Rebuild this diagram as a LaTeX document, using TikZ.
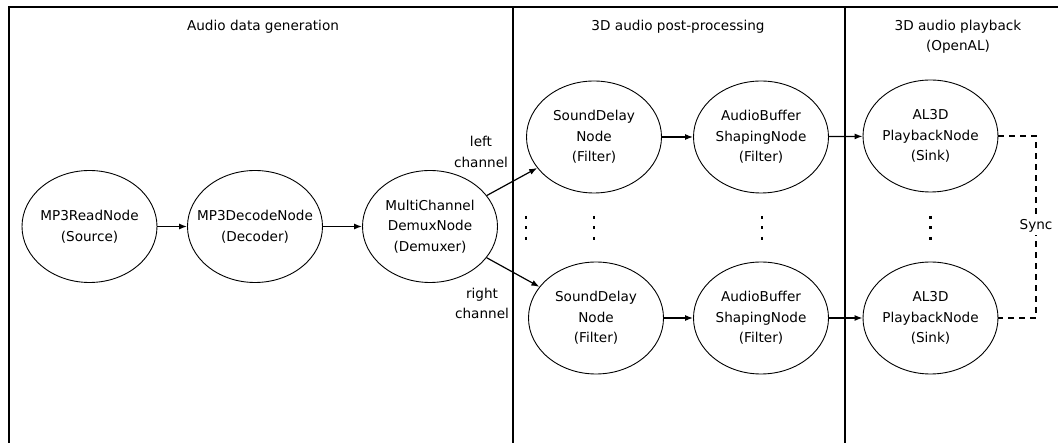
\documentclass[tikz,border=0pt]{standalone}
\usepackage{fontspec}
\setmainfont{DejaVu Sans}
\usetikzlibrary{shapes.geometric,arrows.meta}
\tikzset{
  x=1pt, y=-1pt,
  every node/.style={font=\fontsize{13.6}{20.5}\selectfont, align=center},
  proc/.style={ellipse, draw, line width=0.9pt, minimum width=135pt,
    minimum height=112pt, inner xsep=-30pt, inner ysep=0pt},
  frame/.style={line width=2pt},
  flow/.style={line width=1.2pt, -{Latex[length=8pt,width=6pt]}},
  sync/.style={line width=1.1pt, dash pattern=on 6pt off 5pt},
  dotsline/.style={line width=2.2pt, dash pattern=on 3pt off 7.5pt},
  lbl/.style={inner sep=1pt},
}
\begin{document}
\begin{tikzpicture}
\useasboundingbox (0,0) rectangle (1058,443);
% section frame
\draw[frame] (9,443) -- (9,7.5) -- (1058,7.5);
\draw[frame] (512.5,7.5) -- (512.5,443);
\draw[frame] (844.5,7.5) -- (844.5,443);

% section titles
\node (t1) at (263,27) {Audio data generation};
\node (t2) at (678,27) {3D audio post-processing};
\node (t3) at (958,37) {3D audio playback\\(OpenAL)};

% processing nodes
\node[proc] (read)   at (89.5,226.5) {MP3ReadNode\\(Source)};
\node[proc] (decode) at (255,226.5)  {MP3DecodeNode\\(Decoder)};
\node[proc] (demux)  at (430,226.5)  {MultiChannel\\DemuxNode\\(Demuxer)};
\node[proc] (sd1)  at (594,137) {SoundDelay\\Node\\(Filter)};
\node[proc] (sd2)  at (596,318) {SoundDelay\\Node\\(Filter)};
\node[proc] (abs1) at (761,137) {AudioBuffer\\ShapingNode\\(Filter)};
\node[proc] (abs2) at (761,318) {AudioBuffer\\ShapingNode\\(Filter)};
\node[proc] (al1)  at (930.5,136) {AL3D\\PlaybackNode\\(Sink)};
\node[proc] (al2)  at (930.5,318) {AL3D\\PlaybackNode\\(Sink)};

% data flow
\draw[flow] (read) -- (decode);
\draw[flow] (decode) -- (demux);
\draw[flow] (demux) -- (sd1);
\draw[flow] (demux) -- (sd2);
\draw[flow] (sd1) -- (abs1);
\draw[flow] (sd2) -- (abs2);
\draw[flow] (abs1) -- (al1);
\draw[flow] (abs2) -- (al2);

\node[lbl] (lch) at (481,152) {left\\channel};
\node[lbl] (rch) at (482,303.5) {right\\channel};

% synchronisation between the sinks
\coordinate (s1) at (1036,136);
\coordinate (s2) at (1036,318);
\draw[sync] (al1.east) -- (s1) -- (s2) -- (al2.east);
\node[fill=white, inner xsep=1pt, inner ysep=3pt] (synclbl) at (1036,226) {Sync};

% vertical ellipsis marks between the channels
\foreach \px in {526,594,762,930.5}
  \draw[dotsline] (\px,216) -- (\px,241);
\end{tikzpicture}
\end{document}
